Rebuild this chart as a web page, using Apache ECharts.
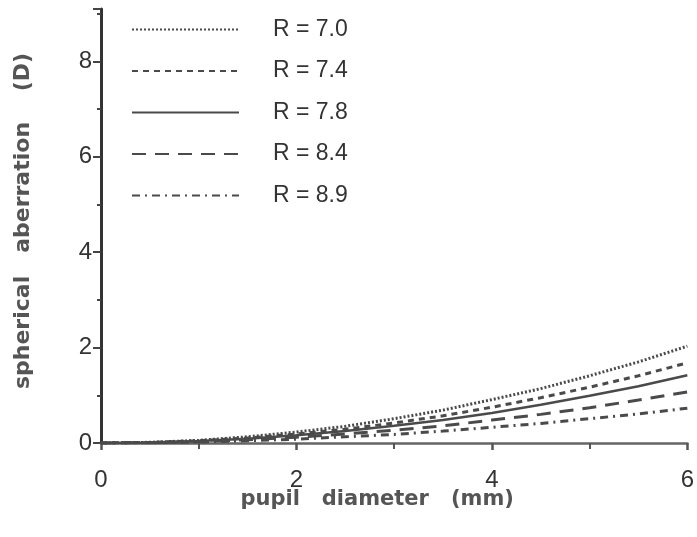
<!DOCTYPE html>
<html>
<head>
<meta charset="utf-8">
<script src="https://cdn.jsdelivr.net/npm/echarts@6/dist/echarts.min.js"></script>
<style>
  html, body { margin: 0; padding: 0; background: #fff; }
  #chart { width: 697px; height: 537px; }
</style>
</head>
<body>
<div id="chart"></div>
<script>
// Pupil diameter (mm) sample points
const pupilDiameter = [0, 0.5, 1, 1.5, 2, 2.5, 3, 3.5, 4, 4.5, 5, 5.5, 6];

// Spherical aberration (D) for each corneal radius R (mm)
const seriesNames = ['R = 7.0', 'R = 7.4', 'R = 7.8', 'R = 8.4', 'R = 8.9'];
const saR70 = [0, 0.014, 0.056, 0.13, 0.23, 0.35, 0.51, 0.69, 0.91, 1.14, 1.41, 1.70, 2.03];
const saR74 = [0, 0.012, 0.047, 0.105, 0.19, 0.29, 0.42, 0.57, 0.75, 0.95, 1.17, 1.41, 1.68];
const saR78 = [0, 0.010, 0.040, 0.09, 0.16, 0.25, 0.36, 0.48, 0.63, 0.80, 0.99, 1.19, 1.42];
const saR84 = [0, 0.007, 0.030, 0.067, 0.12, 0.19, 0.27, 0.36, 0.48, 0.60, 0.74, 0.90, 1.07];
const saR89 = [0, 0.005, 0.020, 0.046, 0.08, 0.13, 0.18, 0.25, 0.33, 0.41, 0.51, 0.61, 0.73];

const xTickLabels = ['0', '2', '4', '6'];
const yTickLabels = ['0', '2', '4', '6', '8'];

const allValues = [saR70, saR74, saR78, saR84, saR89];
const dashTypes = [[2, 2], [6, 5], 'solid', [14, 9], [8, 5, 2, 5]];
const lineWidths = [3, 3, 2.5, 3, 3];

const chart = echarts.init(document.getElementById('chart'), null, { renderer: 'canvas' });

const font = '"Liberation Sans", Arial, Helvetica, sans-serif';
const titleFont = '"DejaVu Sans", "Liberation Sans", sans-serif';

const series = seriesNames.map((name, i) => ({
  name: name,
  type: 'line',
  symbol: 'none',
  smooth: false,
  data: pupilDiameter.map((x, j) => [x, allValues[i][j]]),
  lineStyle: { color: '#4a4a4a', width: lineWidths[i], type: dashTypes[i] },
  itemStyle: { color: '#4a4a4a' },
  z: 3
}));

chart.setOption({
  animation: false,
  backgroundColor: '#fff',
  grid: { left: 101, right: 7, top: 9, bottom: 94 },
  legend: {
    orient: 'vertical',
    left: 126,
    top: 13,
    itemWidth: 107,
    itemHeight: 20,
    itemGap: 18.5,
    data: seriesNames,
    itemStyle: { opacity: 0 },
    textStyle: { fontFamily: font, fontSize: 23, color: '#333', padding: [0, 0, 0, 29] }
  },
  xAxis: {
    type: 'value',
    min: 0,
    max: 6,
    interval: 2,
    name: 'pupil   diameter   (mm)',
    nameLocation: 'middle',
    nameGap: 46,
    nameMoveOverlap: false,
    nameTextStyle: { fontFamily: titleFont, fontSize: 21, fontWeight: 'bold', color: '#555', padding: [0, 34, 0, 0] },
    axisLine: { show: true, lineStyle: { color: '#666', width: 2.5 } },
    axisTick: { show: true, length: 7, lineStyle: { color: '#555', width: 2.5 } },
    minorTick: { show: true, splitNumber: 2, length: 6, lineStyle: { color: '#555', width: 2 } },
    axisLabel: {
      fontFamily: font, fontSize: 24, color: '#333', margin: 25,
      formatter: v => xTickLabels[Math.round(v / 2)] ?? ''
    },
    splitLine: { show: false },
    minorSplitLine: { show: false }
  },
  yAxis: {
    type: 'value',
    min: 0,
    max: 9.1,
    interval: 2,
    name: 'spherical   aberration    (D)',
    nameLocation: 'middle',
    nameGap: 67,
    nameMoveOverlap: false,
    nameRotate: 90,
    nameTextStyle: { fontFamily: titleFont, fontSize: 22, fontWeight: 'bold', color: '#555', padding: [0, 0, 0, 10] },
    axisLine: { show: true, lineStyle: { color: '#333', width: 3 } },
    axisTick: { show: true, length: 8, lineStyle: { color: '#444', width: 2 } },
    minorTick: { show: true, splitNumber: 2, length: 4, lineStyle: { color: '#444', width: 2 } },
    axisLabel: {
      fontFamily: font, fontSize: 24, color: '#333', margin: 9,
      showMaxLabel: false,
      formatter: v => yTickLabels[Math.round(v / 2)] ?? ''
    },
    splitLine: { show: false },
    minorSplitLine: { show: false }
  },
  series: series
});
</script>
</body>
</html>
